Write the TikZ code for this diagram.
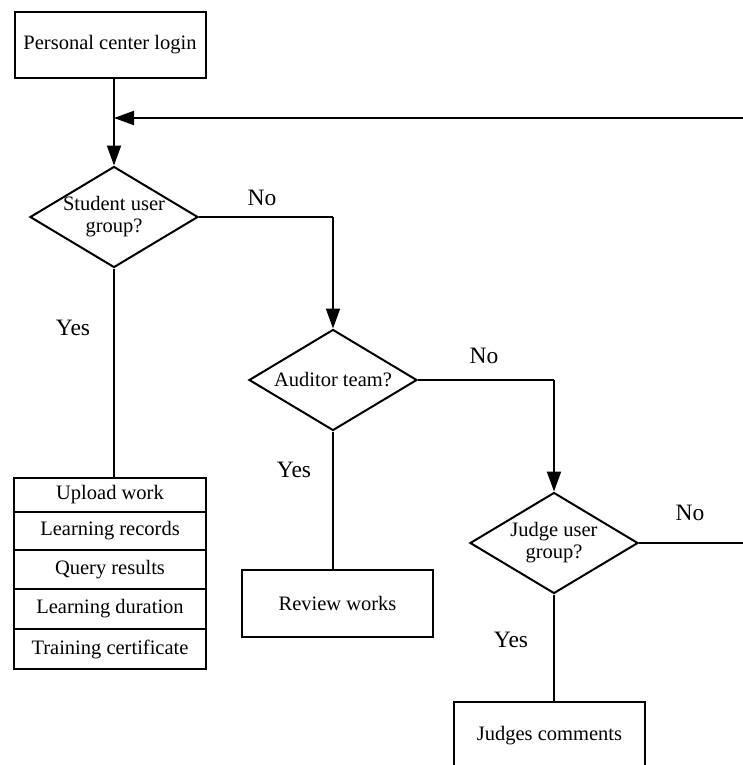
\documentclass[tikz,border=0pt]{standalone}
\usepackage{fontspec}
\setmainfont{Liberation Serif}
\usetikzlibrary{shapes.geometric,arrows.meta,calc}
\begin{document}
\begin{tikzpicture}[x=1pt,y=-1pt,
  every node/.style={font=\fontsize{20.5}{22}\selectfont},
  box/.style={draw,line width=2pt,rectangle,inner sep=0pt},
  dia/.style={draw,line width=2pt,diamond,inner sep=0pt,minimum width=168pt,minimum height=101pt},
  cell/.style={draw,line width=2pt,rectangle,inner sep=0pt,minimum width=192pt},
  lbl/.style={font=\fontsize{23.5}{25}\selectfont,inner sep=0pt},
  conn/.style={line width=2pt},
  arr/.style={line width=2pt,-{Triangle[length=20pt,width=14pt]}}
]
\useasboundingbox (0,0) rectangle (743,765);

% boxes
\node[box,minimum width=191pt,minimum height=66pt] (login) at (110,45) {Personal center login};
\node[dia,label={[align=center,font=\fontsize{20.5}{22}\selectfont]center:Student user\\group?}] (d1) at (114,217) {};
\node[dia,label={[font=\fontsize{20.5}{22}\selectfont]center:Auditor team?}] (d2) at (333,380) {};
\node[dia,label={[align=center,font=\fontsize{20.5}{22}\selectfont]center:Judge user\\group?}] (d3) at (554,543) {};

% stack
\node[cell,minimum height=34pt] (s1) at (110,495) {Upload work};
\node[cell,minimum height=38pt] (s2) at (110,531) {Learning records};
\node[cell,minimum height=39pt] (s3) at (110,569.5) {Query results};
\node[cell,minimum height=40pt] (s4) at (110,609) {Learning duration};
\node[cell,minimum height=40pt] (s5) at (110,649) {Training certificate};

\node[box,minimum width=191pt,minimum height=67pt] (rev) at (337.5,603.5) {Review works};
\node[box,minimum width=191pt,minimum height=67pt] (jud) at (549.5,735.5) {Judges comments};

% coordinates
\coordinate (fbR) at (750,118);
\coordinate (fbJ) at (114,118);
\coordinate (d3R) at (750,543);
\coordinate (c1) at (333,217);
\coordinate (c2) at (554,380);

% connectors
\draw[conn] (d1.north |- login.south) -- (fbJ);
\draw[arr] (fbJ) -- (d1.north);
\draw[arr] (fbR) -- (fbJ);
\draw[conn] (d1.east) -- (c1);
\draw[arr] (c1) -- (d2.north);
\draw[conn] (d2.east) -- (c2);
\draw[arr] (c2) -- (d3.north);
\draw[conn] (d3.east) -- (d3R);
\draw[conn] (d1.south) -- (d1.south |- s1.north);
\draw[conn] (d2.south) -- (d2.south |- rev.north);
\draw[conn] (d3.south) -- (d3.south |- jud.north);

% labels
\node[lbl] (no1) at (262,198) {No};
\node[lbl] (yes1) at (73,328) {Yes};
\node[lbl] (no2) at (484,356) {No};
\node[lbl] (yes2) at (294,470) {Yes};
\node[lbl] (no3) at (690,513) {No};
\node[lbl] (yes3) at (511,640) {Yes};
\end{tikzpicture}
\end{document}
